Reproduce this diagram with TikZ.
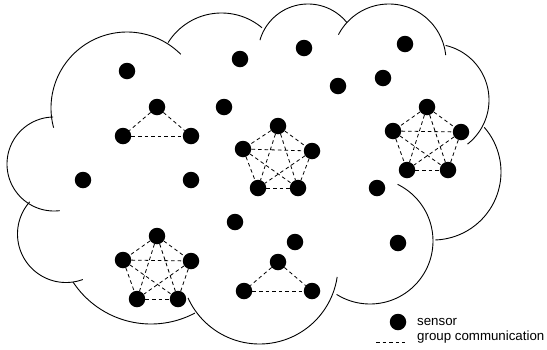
\documentclass[tikz,border=0pt]{standalone}
\usepackage{fontspec}
\setmainfont{Liberation Sans}
\tikzset{
  sensor/.style={circle, fill=black, inner sep=0pt, minimum size=16.5pt},
  comm/.style={draw=black, line width=0.8pt, dash pattern=on 3.6pt off 3pt},
  cloudline/.style={draw=black, line width=0.9pt},
  legendtext/.style={anchor=base west, inner sep=0pt, font=\fontsize{13.3}{16}\selectfont}
}
% one arc of the cloud outline: centre x, centre y, radius, start angle, end angle
\newcommand{\cloudarc}[5]{%
  \draw[cloudline] plot[domain=#4:#5, samples=80, variable=\t]
    ({#1+#3*cos(\t)}, {#2+#3*sin(\t)});}
\begin{document}
\begin{tikzpicture}[x=1pt, y=-1pt]
\useasboundingbox (0,0) rectangle (547,349);

% cloud outline
\cloudarc{127}{108}{76}{165}{315}
\cloudarc{221.5}{76}{63}{212}{310}
\cloudarc{308}{54}{50}{196}{321}
\cloudarc{389}{61}{57}{207.5}{354}
\cloudarc{433}{100}{56}{283}{412}
\cloudarc{433}{172}{68}{319}{448}
\cloudarc{370}{241}{63}{296}{482}
\cloudarc{259.5}{265.5}{78.5}{155.6}{8.4}
\cloudarc{151}{230.6}{93.4}{146.6}{62}
\cloudarc{66}{234}{48.5}{221.6}{69.7}
\cloudarc{54}{164}{47}{269}{83}

% isolated sensors
\node[sensor] (s1) at (127,71) {};
\node[sensor] (s2) at (240,59) {};
\node[sensor] (s3) at (304,48) {};
\node[sensor] (s4) at (405,44) {};
\node[sensor] (s5) at (338,86) {};
\node[sensor] (s6) at (383,78) {};
\node[sensor] (s7) at (224,107) {};
\node[sensor] (s8) at (83,180) {};
\node[sensor] (s9) at (191,180) {};
\node[sensor] (s10) at (235,222) {};
\node[sensor] (s11) at (295,242) {};
\node[sensor] (s12) at (377,188) {};
\node[sensor] (s13) at (398,243) {};

% group A (triangle, upper left)
\node[sensor] (a1) at (157,107) {};
\node[sensor] (a2) at (123,136) {};
\node[sensor] (a3) at (191,136) {};

% group B (pentagon, centre)
\node[sensor] (b1) at (278,126) {};
\node[sensor] (b2) at (243,149) {};
\node[sensor] (b3) at (312,151) {};
\node[sensor] (b4) at (258,188) {};
\node[sensor] (b5) at (298,188) {};

% group C (pentagon, right)
\node[sensor] (c1) at (427,107) {};
\node[sensor] (c2) at (393,131) {};
\node[sensor] (c3) at (461,132) {};
\node[sensor] (c4) at (407,170) {};
\node[sensor] (c5) at (448,170) {};

% group D (pentagon, lower left)
\node[sensor] (d1) at (157,236) {};
\node[sensor] (d2) at (123,260) {};
\node[sensor] (d3) at (191,261) {};
\node[sensor] (d4) at (137,299) {};
\node[sensor] (d5) at (178,299) {};

% group E (triangle, lower centre)
\node[sensor] (e1) at (278,262) {};
\node[sensor] (e2) at (244,291) {};
\node[sensor] (e3) at (312,291) {};

% group communication: every pair within a group
\foreach \g in {a,e}{
  \draw[comm] (\g1) -- (\g2);
  \draw[comm] (\g1) -- (\g3);
  \draw[comm] (\g2) -- (\g3);
}
\foreach \g in {b,c,d}{
  \foreach \i/\j in {1/2,1/3,1/4,1/5,2/3,2/4,2/5,3/4,3/5,4/5}{
    \draw[comm] (\g\i) -- (\g\j);
  }
}

% legend
\node[sensor] (lgdot) at (398,322) {};
\coordinate (lga) at (376,342);
\coordinate (lgb) at (405,342);
\draw[comm] (lga) -- (lgb);
\node[legendtext] (lgs) at (417,325) {sensor};
\node[legendtext] (lgc) at (417,340) {group communication};
\end{tikzpicture}
\end{document}
